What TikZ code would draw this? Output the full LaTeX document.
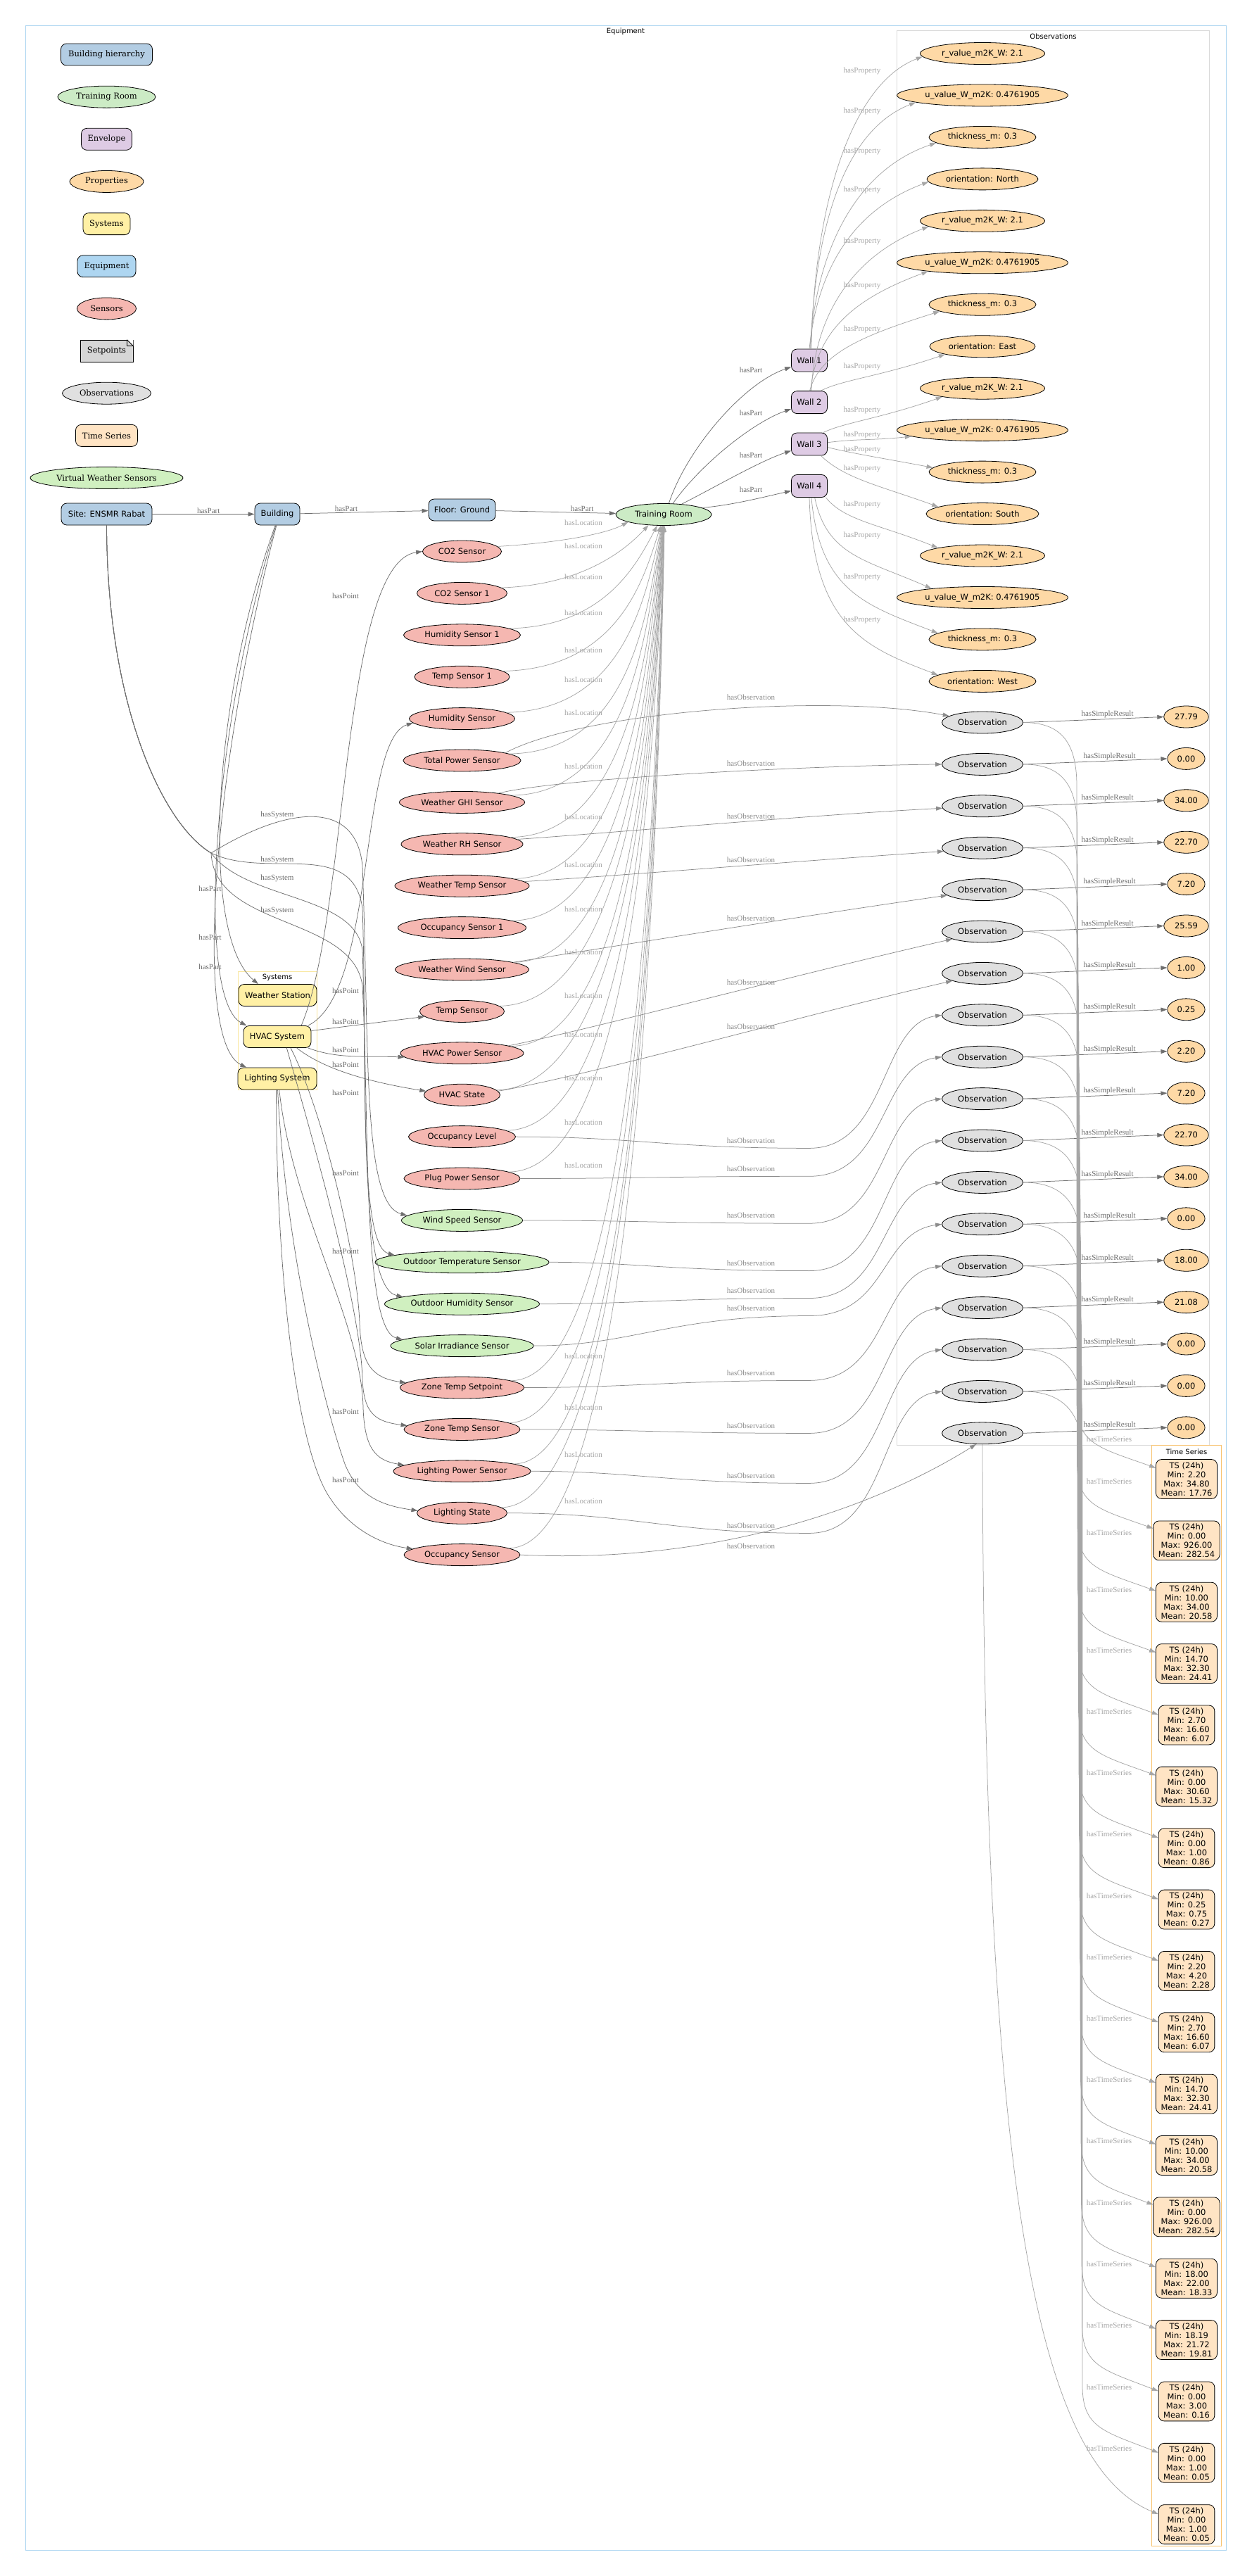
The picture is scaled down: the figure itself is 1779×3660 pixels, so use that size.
\documentclass[tikz,border=0pt]{standalone}
\usepackage{fontspec}
\usepackage{tikz}
\usetikzlibrary{positioning,arrows.meta,shapes.geometric}
\newfontfamily\nodefont{DejaVu Sans}
\newfontfamily\legendfont{DejaVu Serif}
\newfontfamily\relfont{Liberation Serif}
\definecolor{hiercol}{HTML}{B3CDE3}
\definecolor{roomcol}{HTML}{CCEBC5}
\definecolor{envcol}{HTML}{DECBE4}
\definecolor{propcol}{HTML}{FED9A6}
\definecolor{syscol}{HTML}{FFF0A5}
\definecolor{equipcol}{HTML}{AED6F1}
\definecolor{senscol}{HTML}{F5B7B1}
\definecolor{setcol}{HTML}{D6D6D6}
\definecolor{obscol}{HTML}{E0E0E0}
\definecolor{tscol}{HTML}{FFE4C4}
\definecolor{vwscol}{HTML}{D0F0C0}
\definecolor{framecol}{HTML}{AED6F1}
\definecolor{obsframe}{HTML}{DADADA}
\definecolor{sysframe}{HTML}{F9E79F}
\definecolor{tsframe}{HTML}{F8C471}
\definecolor{edgedark}{HTML}{6E6E6E}
\definecolor{edgemid}{HTML}{8C8C8C}
\definecolor{edgelight}{HTML}{A6A6A6}

\begin{document}
\begin{tikzpicture}[
    x=1pt, y=-1pt,
    node distance=28.35pt,
    nodebase/.style={draw, line width=0.8pt, font=\nodefont\fontsize{11.5}{13.5}\selectfont, minimum height=31pt},
    box/.style={nodebase, rounded corners=8pt, inner xsep=6pt},
    oval/.style={nodebase, ellipse, inner xsep=0pt, inner ysep=3pt},
    legendtext/.style={font=\legendfont\fontsize{11.5}{13}\selectfont},
    hier/.style={box, fill=hiercol},
    room/.style={oval, fill=roomcol},
    wall/.style={box, fill=envcol, minimum height=32pt, minimum width=51pt},
    prop/.style={oval, fill=propcol},
    sys/.style={box, fill=syscol},
    sens/.style={oval, fill=senscol},
    vws/.style={oval, fill=vwscol},
    obs/.style={oval, fill=obscol, minimum width=115pt},
    val/.style={oval, fill=propcol, inner xsep=6pt},
    tsbox/.style={box, fill=tscol, align=center, inner xsep=7pt, inner ysep=4pt, font=\nodefont\fontsize{11.5}{13}\selectfont},
    cluster/.style={line width=0.8pt},
    ctitle/.style={font=\nodefont\fontsize{10}{12}\selectfont, inner sep=0pt},
    arrow/.style={-{Triangle[length=9pt,width=6pt]}, line width=0.75pt, draw=edgedark},
    midarrow/.style={arrow, draw=edgemid},
    soft/.style={arrow, draw=edgelight},
    rel/.style={font=\relfont\fontsize{11}{12}\selectfont, text=edgedark, inner sep=1pt},
    midrel/.style={rel, text=edgemid},
    softrel/.style={rel, text=edgelight}
]
\useasboundingbox (0,0) rectangle (1779,3660);

% Clusters
\draw[cluster, draw=framecol] (36,36) rectangle (1742.5,3623);
\node[ctitle] at (889,44.5) {Equipment};
\draw[cluster, draw=obsframe] (1274.5,43.5) rectangle (1718,2053);
\node[ctitle] at (1496.5,52) {Observations};
\draw[cluster, draw=tsframe] (1636.3,2053.5) rectangle (1735.7,3617);
\node[ctitle] at (1686,2062.5) {Time Series};
\draw[cluster, draw=sysframe] (338,1380) rectangle (450.5,1548.5);
\node[ctitle] at (394,1389) {Systems};

% Legend
\node[hier, legendtext, minimum width=130] (leg1) at (151.5,77.5) {Building hierarchy};
\node[room, legendtext, minimum width=139, below=of leg1] (leg2) {Training Room};
\node[box, fill=envcol, legendtext, minimum width=72, below=of leg2] (leg3) {Envelope};
\node[prop, legendtext, minimum width=105, below=of leg3] (leg4) {Properties};
\node[sys, legendtext, minimum width=67, below=of leg4] (leg5) {Systems};
\node[box, fill=equipcol, legendtext, minimum width=83, below=of leg5] (leg6) {Equipment};
\node[sens, legendtext, minimum width=84, below=of leg6] (leg7) {Sensors};
\node[nodebase, fill=setcol, legendtext, minimum width=75, below=of leg7] (leg8) {Setpoints};
\fill[white] (leg8.north east) -- ++(-9,0) -- ++(9,9) -- cycle;
\draw[line width=0.8pt] (leg8.north east) ++(-9,0) -- ++(0,9) -- ++(9,0);
\draw[line width=0.8pt] (leg8.north east) ++(-9,0) -- ++(9,9);
\node[obs, legendtext, minimum width=126, below=of leg8] (leg9) {Observations};
\node[box, fill=tscol, legendtext, minimum width=88, below=of leg9] (leg10) {Time Series};
\node[vws, legendtext, minimum width=217, below=of leg10] (leg11) {Virtual Weather Sensors};

% Hierarchy
\node[hier, minimum width=129] (site) at (151.5,730.5) {Site: ENSMR Rabat};
\node[hier, minimum width=64] (bldg) at (394,730.5) {Building};
\node[hier, minimum width=95] (floor) at (656.5,724.5) {Floor: Ground};
\node[room, minimum width=136] (troom) at (943,731) {Training Room};
\foreach \k/\wy in {1/512, 2/571.6, 3/631, 4/690.5}
  \node[wall] (w\k) at (1150,\wy) {Wall \k};

% Envelope properties
\foreach \txt/\pw [count=\i from 0] in {r\_value\_m2K\_W: 2.1/177, u\_value\_W\_m2K: 0.4761905/243, thickness\_m: 0.3/152, orientation: North/158,
    r\_value\_m2K\_W: 2.1/177, u\_value\_W\_m2K: 0.4761905/243, thickness\_m: 0.3/152, orientation: East/150,
    r\_value\_m2K\_W: 2.1/177, u\_value\_W\_m2K: 0.4761905/243, thickness\_m: 0.3/152, orientation: South/160,
    r\_value\_m2K\_W: 2.1/177, u\_value\_W\_m2K: 0.4761905/243, thickness\_m: 0.3/152, orientation: West/152}
  \node[prop, minimum width=\pw] (p\i) at (1396,{76+59.46*\i}) {\txt};

% Systems
\node[sys, minimum width=111] (wstation) at (394.5,1414) {Weather Station};
\node[sys, minimum width=96] (hvac) at (394,1473) {HVAC System};
\node[sys, minimum width=112] (lighting) at (394,1532.5) {Lighting System};

% Sensors
\foreach \txt/\sty/\sw [count=\i from 0] in {CO2 Sensor/sens/112, CO2 Sensor 1/sens/128, Humidity Sensor 1/sens/166,
    Temp Sensor 1/sens/135, Humidity Sensor/sens/150, Total Power Sensor/sens/167, Weather GHI Sensor/sens/178,
    Weather RH Sensor/sens/173, Weather Temp Sensor/sens/191, Occupancy Sensor 1/sens/182, Weather Wind Sensor/sens/190,
    Temp Sensor/sens/120, HVAC Power Sensor/sens/175, HVAC State/sens/108, Occupancy Level/sens/152,
    Plug Power Sensor/sens/165, Wind Speed Sensor/vws/172, Outdoor Temperature Sensor/vws/247,
    Outdoor Humidity Sensor/vws/220, Solar Irradiance Sensor/vws/203, Zone Temp Setpoint/sens/176,
    Zone Temp Sensor/sens/165, Lighting Power Sensor/sens/195, Lighting State/sens/128, Occupancy Sensor/sens/165}
  \node[\sty, minimum width=\sw] (s\i) at (656.5,{783.5+59.4*\i}) {\txt};

% Observations and results
\foreach \j in {0,...,17}
  \node[obs] (o\j) at (1396,{1026.5+59.4*\j}) {Observation};
\foreach \v [count=\j from 0] in {27.79, 0.00, 34.00, 22.70, 7.20, 25.59, 1.00, 0.25, 2.20,
    7.20, 22.70, 34.00, 0.00, 18.00, 21.08, 0.00, 0.00, 0.00}
  \node[val] (v\j) at (1685.5,{1018.5+59.4*\j}) {\v};

% Time series
\foreach \mn/\mx/\me [count=\k from 0] in {2.20/34.80/17.76, 0.00/926.00/282.54, 10.00/34.00/20.58,
    14.70/32.30/24.41, 2.70/16.60/6.07, 0.00/30.60/15.32, 0.00/1.00/0.86, 0.25/0.75/0.27,
    2.20/4.20/2.28, 2.70/16.60/6.07, 14.70/32.30/24.41, 10.00/34.00/20.58, 0.00/926.00/282.54,
    18.00/22.00/18.33, 18.19/21.72/19.81, 0.00/3.00/0.16, 0.00/1.00/0.05, 0.00/1.00/0.05}
  \node[tsbox] (ts\k) at (1686,{2101.5+87.36*\k}) {TS (24h)\\Min: \mn\\Max: \mx\\Mean: \me};

% Arrows: hierarchy
\draw[arrow] (site) -- node[rel, above, pos=0.55] {hasPart} (bldg);
\draw[arrow] (bldg) -- node[rel, above, pos=0.36] {hasPart} (floor);
\draw[arrow] (floor) -- node[rel, above, pos=0.72] {hasPart} (troom);
\draw[arrow] (troom.65) .. controls (975,640) and (1055,545) .. (w1.200);
\draw[arrow] (troom.50) .. controls (995,660) and (1070,600) .. (w2.200);
\draw[arrow] (troom.30) .. controls (1020,690) and (1080,655) .. (w3.200);
\draw[arrow] (troom.10) .. controls (1040,718) and (1090,705) .. (w4.195);
\foreach \ly in {525.4, 586.4, 646.4, 695.3}
  \node[rel] at (1067,\ly) {hasPart};

% Arrows: wall properties
\foreach \pn/\wn/\wa/\cax/\cay/\cbx/\cby/\pa/\ly in {
    0/1/80/1157/288/1210/119/183/100.7, 1/1/84/1158/321/1200/185/186/157.7,
    2/1/87/1160/349/1220/240/187/214.7, 3/1/90/1162/377/1216/297/183/269.7,
    4/2/80/1158/440/1218/361/186/342.7, 5/2/84/1160/471/1212/425/189/405.7,
    6/2/88/1165/500/1232/475/189/467.7, 7/2/45/1195/540/1250/535/192/520.7,
    8/3/40/1200/600/1250/595/192/582.5, 9/3/5/1220/623/1240/626/185/617.5,
    10/3/-10/1215/645/1260/652/175/638.5, 11/3/-45/1200/680/1250/690/171/665.7,
    12/4/-35/1200/740/1250/745/170/716.8, 13/4/-65/1175/790/1230/795/170/760.7,
    14/4/-80/1165/840/1230/860/172/819.6, 15/4/-90/1155/890/1230/920/172/880.7} {
  \draw[soft] (w\wn.\wa) .. controls (\cax,\cay) and (\cbx,\cby) .. (p\pn.\pa);
  \node[softrel] at (1225,\ly) {hasProperty};
}

% Arrows: building parts and systems
\draw[arrow] (bldg.-100) .. controls (300,1000) and (285,1330) .. (wstation.150);
\draw[arrow] (bldg.-97) .. controls (298,1050) and (280,1420) .. (hvac.160);
\draw[arrow] (bldg.-94) .. controls (300,1100) and (275,1480) .. (lighting.160);
\foreach \ly in {1262.5, 1331.7, 1373.5}
  \node[rel] at (298.5,\ly) {hasPart};
\draw[arrow] (site.south) .. controls (152,1000) and (230,1170) .. (300,1212) .. controls (400,1150) and (505,1130) .. (515,1230) .. controls (525,1500) and (515,1710) .. (s16.175);
\draw[arrow] (site.south) .. controls (152,1000) and (230,1170) .. (300,1212) .. controls (380,1250) and (500,1190) .. (515,1290) .. controls (522,1500) and (508,1770) .. (s17.174);
\draw[arrow] (site.south) .. controls (152,1000) and (230,1170) .. (300,1212) .. controls (350,1280) and (505,1270) .. (515,1350) .. controls (522,1550) and (510,1830) .. (s18.173);
\draw[arrow] (site.south) .. controls (152,1000) and (230,1170) .. (300,1212) .. controls (305,1320) and (500,1300) .. (515,1400) .. controls (525,1600) and (515,1890) .. (s19.174);
\foreach \ly in {1157.6, 1221.5, 1248, 1293.8}
  \node[rel] at (394,\ly) {hasSystem};

% Arrows: points
\draw[arrow] (hvac.25) .. controls (495,1300) and (485,800) .. (s0.180);
\draw[arrow] (hvac.20) .. controls (535,1410) and (510,1050) .. (s4.185);
\draw[arrow] (hvac.10) -- (s11.188);
\draw[arrow] (hvac.-20) .. controls (480,1505) and (520,1500) .. (s12.184);
\draw[arrow] (hvac.-30) .. controls (455,1515) and (510,1535) .. (s13.174);
\draw[arrow] (hvac.-40) .. controls (460,1580) and (508,1790) .. (511,1880) .. controls (513,1940) and (530,1958) .. (s20.175);
\draw[arrow] (hvac.-50) .. controls (445,1620) and (513,1860) .. (515,1960) .. controls (517,2010) and (535,2020) .. (s21.176);
\draw[arrow] (lighting.-80) .. controls (415,1720) and (514,1880) .. (516,2000) .. controls (518,2060) and (535,2075) .. (s22.174);
\draw[arrow] (lighting.-88) .. controls (405,1760) and (455,1980) .. (490,2080) .. controls (510,2130) and (550,2140) .. (s23.177);
\draw[arrow] (lighting.-95) .. controls (392,1800) and (420,2060) .. (470,2130) .. controls (500,2175) and (545,2195) .. (s24.173);
\foreach \ly in {847, 1407.5, 1451.4, 1491.3, 1512.4, 1552.6, 1666.6, 1777.7, 2005.4, 2102.3}
  \node[rel] at (491,\ly) {hasPoint};

% Arrows: locations
\foreach \i/\ly/\ang/\ax/\bx in {0/742.5/-168/790/860, 1/775.7/-145/830/890, 2/819.6/-120/860/905,
    3/870.6/-105/880/915, 4/923.6/-100/890/918, 5/965.5/-98/900/920, 6/1012.5/-96/900/920,
    7/1088.4/-95/900/922, 8/1160.4/-94/900/922, 9/1228.4/-93/900/924, 10/1291.3/-92/900/924,
    11/1353/-91/900/926, 12/1414.6/-90/900/926, 13/1470/-90/900/928, 14/1532/-89/900/928,
    15/1594.4/-89/900/930, 20/1655.4/-88/900/930, 21/1926.3/-88/900/932, 22/2000/-87/900/932,
    23/2067/-87/900/934, 24/2132.3/-86/900/934} {
  \pgfmathsetmacro{\sy}{783.5+59.4*\i}
  \pgfmathsetmacro{\cy}{746+0.35*(\sy-746)}
  \draw[soft] (s\i.8) .. controls (\ax,{\sy-12}) and (\bx,\cy) .. (troom.\ang);
  \node[softrel] at (829,\ly) {hasLocation};
}

% Arrows: observations
\draw[midarrow] (s5.10) .. controls (830,1010) and (1180,985) .. (o0.169);
\draw[midarrow] (s6.14) .. controls (800,1105) and (1150,1088) .. (o1.west);
\draw[midarrow] (s7.5) .. controls (850,1185) and (1150,1158) .. (o2.183);
\draw[midarrow] (s8.4) .. controls (870,1245) and (1150,1222) .. (o3.185);
\draw[midarrow] (s10.8) .. controls (850,1348) and (1150,1300) .. (o4.189);
\draw[midarrow] (s12.9) .. controls (850,1460) and (1150,1380) .. (o5.194);
\draw[midarrow] (s13.6) .. controls (850,1525) and (1150,1440) .. (o6.194);
\foreach \ly in {991, 1084.5, 1160, 1221.3, 1304.5, 1395.4, 1458.3}
  \node[midrel] at (1067,\ly) {hasObservation};
\foreach \i/\j/\ly in {14/7/1620.4, 15/8/1660.3, 16/9/1727.2, 17/10/1794.6, 18/11/1833.5,
    19/12/1858.5, 20/13/1950.4, 21/14/2025.4, 22/15/2096.4, 23/16/2167.4} {
  \pgfmathsetmacro{\sy}{783.5+59.4*\i}
  \pgfmathsetmacro{\oy}{1026.5+59.4*\j}
  \pgfmathsetmacro{\my}{\ly+11}
  \draw[midarrow] (s\i.east) .. controls (900,\sy) and (950,\my) .. (1150,\my) .. controls (1262,\my) and (1250,{\oy+12}) .. (o\j.west);
  \node[midrel] at (1067,\ly) {hasObservation};
}
\draw[midarrow] (s24.east) .. controls (1000,2222) and (1230,2150) .. (o17.-120);
\node[midrel] at (1067,2196.4) {hasObservation};

% Arrows: results
\foreach \j in {0,...,17}
  \draw[arrow] (o\j.east) -- node[rel, above, pos=0.6] {hasSimpleResult} (v\j.west);

% Arrows: time series
\foreach \j/\ly in {0/2104.4, 1/2177.6, 2/2258.4, 3/2344.6, 4/2431.4, 5/2518.4, 6/2605.7, 7/2693.5,
    8/2780.5, 9/2867.4, 10/2954.4, 11/3041.7, 12/3129.6, 13/3216.8, 14/3303.5, 15/3391.4, 16/3478.6} {
  \pgfmathsetmacro{\oy}{1026.5+59.4*\j}
  \pgfmathsetmacro{\ty}{2101.5+87.36*\j}
  \pgfmathsetmacro{\bx}{1530+0.5*\j}
  \draw[soft] (o\j.east) .. controls (1505,\oy) and (\bx,{\oy+25}) .. (\bx,{\oy+90}) -- (\bx,{\ty-110}) .. controls (\bx,{\ty-50}) and ({\bx+30},{\ty-45}) .. (ts\j.160);
  \node[softrel] at (1576,\ly) {hasTimeSeries};
}
\draw[soft] (o17.south) .. controls (1398,3100) and (1470,3500) .. (ts17.160);
\node[softrel] at (1576,2044.6) {hasTimeSeries};
\end{tikzpicture}
\end{document}
